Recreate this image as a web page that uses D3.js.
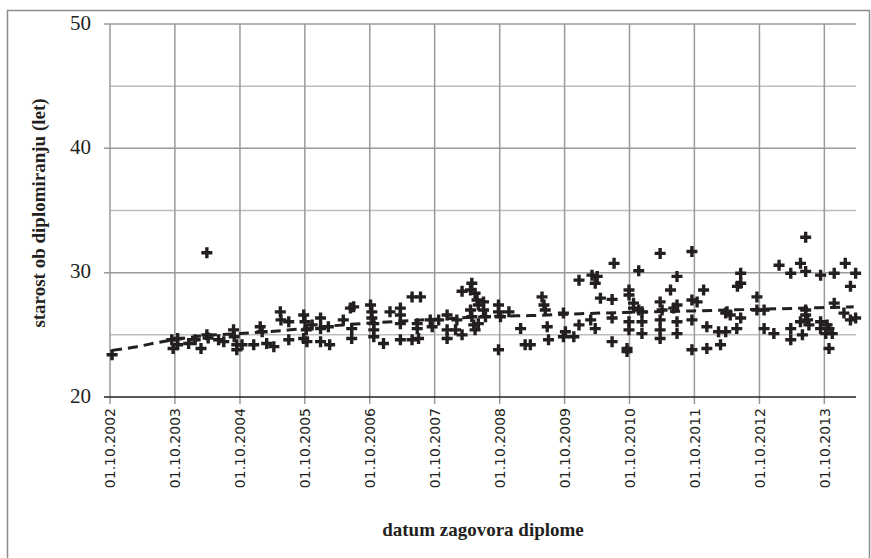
<!DOCTYPE html>
<html><head><meta charset="utf-8">
<script src="https://cdn.jsdelivr.net/npm/d3@7/dist/d3.min.js"></script>
<style>body{margin:0;background:#fff}svg{display:block}
.serif{font-family:"Liberation Serif","Times New Roman","DejaVu Serif",serif}
</style>
</head><body><svg id="c" width="871" height="558"></svg>
<script>
// defense date (decimal year) and age at graduation (years)
const defenseYear = [2002.78,2004.24,2003.70,2003.79,2003.72,2003.79,2003.96,2004.06,2004.15,2004.24,2004.26,2004.42,2004.50,2004.65,2004.66,2004.70,2004.70,2004.78,2004.96,2005.06,2005.09,2005.16,2005.27,2005.37,2005.38,2005.50,2005.50,2005.73,2005.75,2005.77,2005.73,2005.78,2005.86,2005.99,2005.99,2006.11,2005.99,2006.13,2006.34,2006.45,2006.47,2006.47,2006.50,2006.76,2006.78,2006.78,2006.81,2006.81,2006.81,2006.96,2007.06,2007.22,2007.22,2007.22,2007.22,2007.40,2007.53,2007.40,2007.50,2007.48,2007.48,2007.68,2007.71,2007.81,2007.94,2007.94,2007.94,2008.07,2008.17,2008.09,2008.17,2008.32,2008.30,2008.37,2008.30,2008.32,2008.35,2008.37,2008.40,2008.42,2008.42,2008.50,2008.50,2008.53,2008.73,2008.73,2008.76,2008.73,2008.89,2009.07,2009.14,2009.22,2009.40,2009.43,2009.45,2009.48,2009.50,2009.73,2009.73,2009.76,2009.89,2009.97,2009.97,2010.17,2010.25,2010.22,2010.30,2010.15,2010.22,2010.51,2011.22,2011.71,2010.89,2011.48,2011.38,2011.89,2010.74,2010.74,2010.48,2010.81,2010.81,2010.89,2010.94,2011.22,2011.25,2011.43,2011.48,2011.71,2011.79,2010.48,2010.74,2010.74,2010.94,2010.94,2011.22,2011.22,2011.22,2011.48,2011.48,2011.71,2011.94,2012.12,2012.23,2012.23,2010.48,2010.71,2010.71,2011.71,2011.94,2012.15,2012.46,2012.46,2012.41,2012.71,2012.71,2012.82,2013.05,2013.23,2013.38,2013.46,2013.69,2013.90,2014.07,2014.23,2014.15,2012.30,2012.46,2012.40,2012.82,2012.97,2013.23,2013.23,2013.41,2013.38,2013.46,2013.46,2013.49,2013.51,2013.69,2013.69,2013.79,2013.82,2013.87,2013.77,2013.82,2013.90,2014.05,2014.15,2014.23,2013.46,2012.25];
const ageAtGraduation = [23.4,31.6,24.6,24.7,23.9,24.2,24.3,24.6,23.9,25.0,24.75,24.6,24.45,25.4,24.85,24.2,23.8,24.2,24.2,25.65,25.25,24.3,24.05,26.85,26.2,26.05,24.6,26.6,26.05,25.4,24.7,24.45,25.8,26.35,25.5,25.65,24.45,24.2,26.2,27.15,25.5,24.7,27.25,27.4,26.85,26.35,25.9,25.4,24.85,24.3,26.85,27.15,26.6,25.9,24.6,28.05,28.05,24.6,24.7,25.9,25.5,26.2,25.65,26.2,26.6,25.4,24.7,25.4,25.0,26.2,28.5,29.15,28.6,28.35,27.0,26.45,25.8,25.4,27.8,27.4,25.9,27.65,27.0,26.45,27.4,26.85,26.45,23.8,26.85,25.5,24.2,24.2,28.05,27.4,27.0,25.65,24.6,26.75,24.85,25.25,24.85,29.4,25.8,29.8,29.7,29.15,27.95,26.2,25.5,30.75,31.55,31.7,30.15,29.7,28.6,28.6,28.6,28.2,27.85,27.55,27.15,27.0,26.85,27.65,27.0,27.15,27.4,27.8,27.65,26.35,26.05,25.4,26.05,25.1,26.2,25.4,24.7,26.05,25.1,26.2,25.65,25.25,25.25,26.75,24.45,23.9,23.65,23.8,23.9,24.2,29.95,29.15,28.9,28.05,27.0,27.0,30.6,29.95,30.75,30.1,29.8,29.95,30.75,29.95,28.9,26.6,26.35,25.5,25.5,25.1,25.5,24.6,25.0,26.05,27.0,26.6,26.2,25.8,26.05,25.5,25.8,25.5,25.1,25.1,23.9,27.55,26.75,26.2,26.35,32.85,26.85];
// logarithmic trend line as drawn (decimal year, age)
const trendYear = [2002.78,2003.11,2003.55,2004.24,2004.75,2005.52,2006.34,2006.91,2007.94,2008.71,2009.22,2009.99,2010.66,2011.53,2012.3,2013.07,2014.2];
const trendAge  = [23.75,24.0,24.45,24.95,25.1,25.4,25.8,26.0,26.3,26.5,26.55,26.7,26.8,26.9,27.0,27.1,27.25];
const yTicks = [20,25,30,35,40,45,50];
const yLabels = [20,30,40,50];
const xTickYears = [2002,2003,2004,2005,2006,2007,2008,2009,2010,2011,2012,2013];

function toDate(y){const yr=Math.floor(y);const s=new Date(yr,0,1),e=new Date(yr+1,0,1);return new Date(+s+(y-yr)*(e-s));}

const svg = d3.select("#c");
const x = d3.scaleTime().domain([new Date(2002,9,1), new Date(2014,2,28)]).range([110,856]);
const y = d3.scaleLinear().domain([20,50]).range([397,24]);

svg.append("rect").attr("x",7.5).attr("y",10.5).attr("width",862).attr("height",600)
  .attr("fill","none").attr("stroke","#8c8c8c").attr("stroke-width",1.5);

// horizontal grid
svg.append("g").selectAll("line").data(yTicks.filter(d=>d>20)).join("line")
  .attr("x1",d=>yLabels.includes(d)?104:110).attr("x2",856)
  .attr("y1",d=>y(d)).attr("y2",d=>y(d))
  .attr("stroke",d=>yLabels.includes(d)?"#9a9a9a":"#bdbdbd").attr("stroke-width",1.5);

const xTickDates = xTickYears.map(yr=>new Date(yr,9,1));
// vertical grid
svg.append("g").selectAll("line").data(xTickDates).join("line")
  .attr("x1",d=>x(d)).attr("x2",d=>x(d)).attr("y1",y(50)).attr("y2",404)
  .attr("stroke","#9a9a9a").attr("stroke-width",1.5);

// x axis
const xAxis = d3.axisBottom(x).tickValues(xTickDates).tickFormat(d3.timeFormat("%d.%m.%Y")).tickSize(0).tickPadding(0);
const gx = svg.append("g").attr("transform","translate(0,397)").call(xAxis);
gx.select(".domain").remove();
gx.append("line").attr("x1",104).attr("x2",856).attr("stroke","#222").attr("stroke-width",1.5);
gx.selectAll(".tick text").attr("transform","rotate(-90)").attr("x",-11).attr("y",0).attr("dy","0.35em")
  .attr("text-anchor","end").attr("font-family","DejaVu Sans").attr("font-size",14).attr("fill","#231f20");

// y axis
const yAxis = d3.axisLeft(y).tickValues(yLabels).tickSize(0).tickPadding(0);
const gy = svg.append("g").attr("transform","translate(91,0)").call(yAxis);
gy.select(".domain").remove();
gy.selectAll(".tick text").attr("class","serif").attr("font-family",null).attr("font-size",21).attr("fill","#231f20").attr("dy","0.25em");

// trend line
const line = d3.line().x((d,i)=>x(toDate(trendYear[i]))).y((d,i)=>y(trendAge[i])).curve(d3.curveMonotoneX);
svg.append("path").datum(trendAge).attr("d",line).attr("fill","none")
  .attr("stroke","#231f20").attr("stroke-width",3).attr("stroke-dasharray","10,6");

// points
const pts = defenseYear.map((d,i)=>({t:toDate(d),v:ageAtGraduation[i]}));
const plus = "M-5.5,0H5.5M0,-5.5V5.5";
svg.append("g").selectAll("path").data(pts).join("path")
  .attr("transform",d=>`translate(${x(d.t)},${y(d.v)})`).attr("d",plus)
  .attr("stroke","#231f20").attr("stroke-width",3.4).attr("fill","none");

// titles
svg.append("text").attr("class","serif").attr("transform","translate(45,213) rotate(-90)").attr("text-anchor","middle")
  .attr("font-weight","700").attr("font-size",19).attr("fill","#231f20")
  .text("starost ob diplomiranju (let)");
svg.append("text").attr("class","serif").attr("x",483).attr("y",536).attr("text-anchor","middle")
  .attr("font-weight","700").attr("font-size",19).attr("fill","#231f20")
  .text("datum zagovora diplome");
</script></body></html>
